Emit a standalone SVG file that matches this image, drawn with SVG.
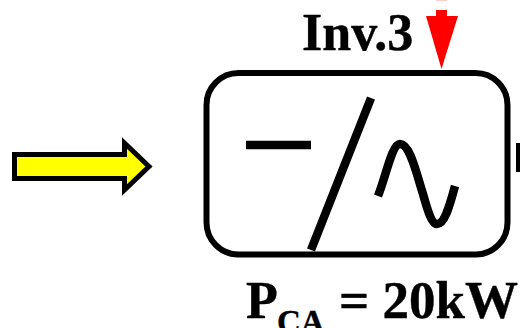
<svg xmlns="http://www.w3.org/2000/svg" width="520" height="328" viewBox="0 0 520 328">
<style>
text{font-family:"Liberation Serif","Times New Roman",serif;font-weight:700;fill:#000;stroke:#000;stroke-width:.4}
.big{font-size:52px}
.sym{fill:none;stroke:#000;stroke-width:8.500}
</style>
<rect width="520" height="328" fill="#fff"/>
<g id="connectors">
<path id="input-arrow" d="M14.500 154.500H124.500V143L149 166.500L124.500 190V178.500H14.500Z" fill="#ff0" stroke="#000" stroke-width="5"/>
<path id="red-arrow" d="M436 10H447V16H458L441.500 69L426 16H436Z" fill="#f00"/>
<rect x="436" y="0" width="11" height="1" fill="#fcc"/>
<rect x="516" y="143" width="4" height="29" fill="#000"/>
</g>
<g id="inverter">
<rect x="206.500" y="73" width="301" height="181.500" rx="32" fill="none" stroke="#000" stroke-width="6"/>
<path d="M246 145H311" class="sym"/>
<path d="M371 98L311 250" class="sym"/>
<path d="M378 196C386 176 392 144 400 144C410 144 416 172 423 194C428 212 432 224 437 224C445 224 450 204 455 186" class="sym"/>
</g>
<g id="label-inv">
<text class="big" x="302" y="50">Inv.3</text>
</g>
<g id="label-power">
<text class="big" x="246" y="318">P</text>
<text x="277" y="333" font-size="33">CA</text>
<text class="big" x="339" y="318" font-size="53" style="font-size:53px">= 20kW</text>
</g>
</svg>
